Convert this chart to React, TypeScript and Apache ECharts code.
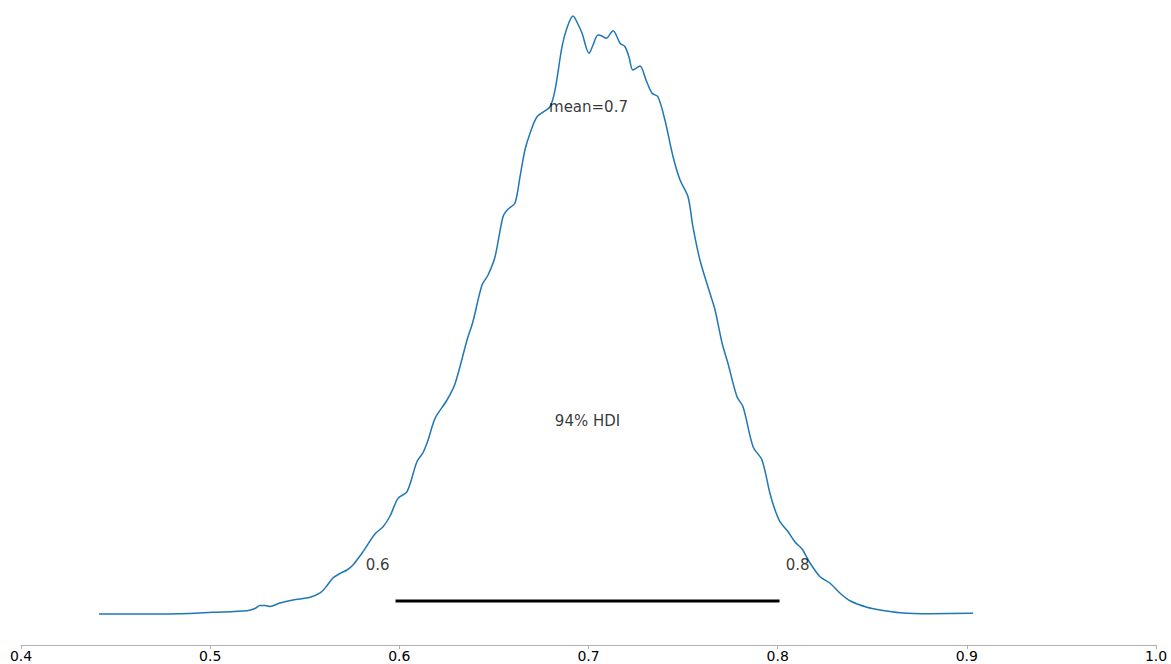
import React, { useEffect, useRef } from "react";
import * as echarts from "echarts";

const xs = [0.4412, 0.4682, 0.4841, 0.5015, 0.5195, 0.5237, 0.5263, 0.529, 0.5316, 0.5369, 0.5438, 0.5528, 0.5581, 0.5612, 0.5649, 0.5686, 0.5723, 0.5755, 0.5808, 0.5871, 0.5914, 0.5951, 0.5993, 0.6041, 0.6093, 0.6125, 0.6152, 0.6189, 0.6252, 0.6294, 0.6358, 0.6389, 0.6437, 0.6469, 0.6506, 0.6548, 0.6574, 0.6611, 0.6638, 0.6664, 0.6691, 0.6728, 0.6796, 0.6823, 0.686, 0.6886, 0.6918, 0.6944, 0.6966, 0.7003, 0.7024, 0.705, 0.7071, 0.7093, 0.713, 0.7167, 0.7193, 0.7214, 0.7235, 0.7272, 0.7304, 0.7336, 0.7367, 0.7404, 0.7447, 0.7484, 0.7526, 0.7552, 0.7589, 0.7642, 0.7669, 0.7706, 0.7737, 0.7785, 0.7817, 0.787, 0.7917, 0.7959, 0.7986, 0.8012, 0.8055, 0.8092, 0.8129, 0.8171, 0.8224, 0.8277, 0.833, 0.8382, 0.8472, 0.8541, 0.8647, 0.8805, 0.9033];
const density = [0, 0, 0.0025, 0.021, 0.041, 0.069, 0.106, 0.106, 0.094, 0.138, 0.175, 0.209, 0.263, 0.338, 0.45, 0.506, 0.55, 0.613, 0.779, 1.0, 1.091, 1.225, 1.446, 1.529, 1.904, 2.016, 2.175, 2.446, 2.675, 2.875, 3.425, 3.654, 4.1125, 4.2375, 4.466, 4.966, 5.059, 5.134, 5.466, 5.8, 6.009, 6.216, 6.341, 6.55, 7.091, 7.325, 7.475, 7.375, 7.259, 7.009, 7.1125, 7.2375, 7.225, 7.196, 7.291, 7.134, 7.091, 6.9625, 6.8, 6.85, 6.675, 6.509, 6.466, 6.175, 5.716, 5.425, 5.216, 4.841, 4.425, 4.009, 3.8, 3.3875, 3.134, 2.716, 2.591, 2.091, 1.925, 1.509, 1.3, 1.154, 1.029, 0.9, 0.8125, 0.6375, 0.466, 0.384, 0.259, 0.166, 0.084, 0.05, 0.016, 0.004, 0.009];

const hdi = [0.598, 0.801];
const hdiY = 0.1625;
const hdiLabels = ["0.6", "0.8"];
const hdiLabelY = 0.6125;
const meanValue = 0.7;
const meanLabel = "mean=0.7";
const meanLabelY = 6.3375;
const hdiText = "94% HDI";
const hdiTextY = 2.4125;
const xTicks = [0.4, 0.5, 0.6, 0.7, 0.8, 0.9, 1.0];

export default function App() {
  const ref = useRef<HTMLDivElement>(null);
  useEffect(() => {
    if (!ref.current) return;
    const chart = echarts.init(ref.current, null, { renderer: "svg" });
    const font = "DejaVu Sans";
    chart.setOption({
      animation: false,
      textStyle: { fontFamily: font },
      grid: {
        left: 21,
        right: 15,
        top: 0,
        bottom: 19,
        containLabel: false,
        outerBoundsMode: "none",
      },
      xAxis: {
        type: "value",
        min: xTicks[0],
        max: xTicks[xTicks.length - 1],
        interval: 0.1,
        axisLine: { show: true, onZero: false, lineStyle: { color: "#b0b0b0", width: 1 } },
        axisTick: { show: true, length: 4, lineStyle: { color: "#b0b0b0" } },
        axisLabel: {
          show: true,
          margin: 4,
          hideOverlap: false,
          color: "#000",
          fontFamily: font,
          fontSize: 14,
          lineHeight: 14,
          formatter: (v: number) => v.toFixed(1),
        },
        splitLine: { show: false },
      },
      yAxis: {
        type: "value",
        min: -0.3875,
        max: 7.675,
        show: false,
        splitLine: { show: false },
      },
      series: [
        {
          type: "line",
          data: xs.map((x, i) => [x, density[i]]),
          showSymbol: false,
          smooth: 0.3,
          lineStyle: { color: "#1f77b4", width: 1.5 },
          z: 3,
        },
        {
          type: "line",
          data: hdi.map((x) => [x, hdiY]),
          showSymbol: false,
          lineStyle: { color: "#000", width: 3 },
          z: 2,
        },
        {
          type: "scatter",
          symbolSize: 0,
          data: [
            { value: [hdi[0], hdiLabelY], name: hdiLabels[0], label: { offset: [-18, 0] } },
            { value: [hdi[1], hdiLabelY], name: hdiLabels[1], label: { offset: [18, 0] } },
            { value: [(hdi[0] + hdi[1]) / 2, hdiTextY], name: hdiText },
            { value: [meanValue, meanLabelY], name: meanLabel },
          ],
          label: {
            show: true,
            position: "inside",
            formatter: (p: any) => p.name,
            color: "#000",
            fontFamily: font,
            fontSize: 15,
          },
          z: 4,
        },
      ],
    });
    return () => chart.dispose();
  }, []);
  return (
    <div
      ref={ref}
      style={{ position: "absolute", left: 0, top: 0, width: 1171, height: 664 }}
    />
  );
}
